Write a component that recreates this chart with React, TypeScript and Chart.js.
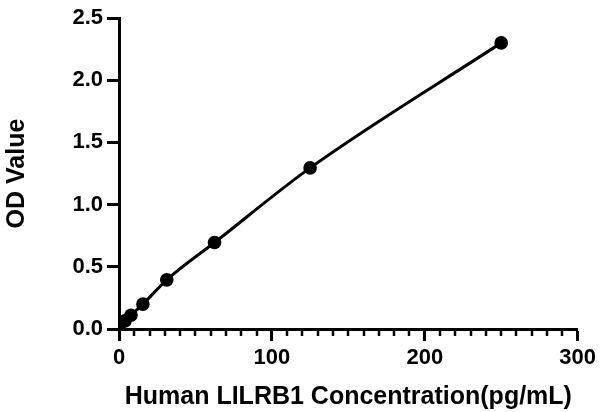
import React, { useEffect, useRef } from "react";
import { Chart, registerables } from "chart.js";

Chart.register(...registerables);

const concentrations = [0, 3.906, 7.813, 15.625, 31.25, 62.5, 125, 250];
const odValues = [0.025, 0.065, 0.11, 0.2, 0.395, 0.695, 1.295, 2.3];
const xTicks = [0, 100, 200, 300];
const yTicks = [0, 0.5, 1.0, 1.5, 2.0, 2.5];
const xMinorStep = 10;

const FONT = "'Liberation Sans', Arial, sans-serif";

const minorTickPlugin = {
  id: "minorTicks",
  afterDraw(chart: any) {
    const x = chart.scales.x;
    const ctx = chart.ctx;
    const bottom = chart.chartArea.bottom;
    ctx.save();
    ctx.strokeStyle = "#000";
    ctx.lineWidth = 2.5;
    for (let v = x.min; v <= x.max; v += xMinorStep) {
      if (xTicks.includes(v)) continue;
      const px = Math.round(x.getPixelForValue(v));
      ctx.beginPath();
      ctx.moveTo(px, bottom);
      ctx.lineTo(px, bottom + 7);
      ctx.stroke();
    }
    ctx.restore();
  },
};

export default function App() {
  const ref = useRef<HTMLCanvasElement | null>(null);
  useEffect(() => {
    if (!ref.current) return;
    const chart = new Chart(ref.current, {
      type: "line",
      data: {
        datasets: [
          {
            data: concentrations.map((c, i) => ({ x: c, y: odValues[i] })),
            borderColor: "#000",
            backgroundColor: "#000",
            borderWidth: 3,
            pointRadius: 6.8,
            pointHoverRadius: 6.8,
            pointBackgroundColor: "#000",
            pointBorderWidth: 0,
            cubicInterpolationMode: "monotone",
            fill: false,
          },
        ],
      },
      options: {
        animation: false,
        responsive: false,
        maintainAspectRatio: false,
        layout: { padding: { left: 0, right: 20, top: 18, bottom: 0 } },
        plugins: {
          legend: { display: false },
          tooltip: { enabled: false },
        },
        scales: {
          x: {
            type: "linear",
            min: 0,
            max: 300,
            afterFit: (s: any) => {
              s.height = 83;
            },
            afterBuildTicks: (s: any) => {
              s.ticks = xTicks.map((v) => ({ value: v }));
            },
            grid: {
              display: true,
              drawOnChartArea: false,
              drawTicks: true,
              tickLength: 12,
              tickWidth: 3,
              tickColor: "#000",
            },
            border: { display: true, color: "#000", width: 3 },
            ticks: {
              color: "#000",
              font: { family: FONT, size: 22, weight: "bold" },
              padding: 4,
              maxRotation: 0,
            },
            title: {
              display: true,
              text: "Human LILRB1 Concentration(pg/mL)",
              color: "#000",
              font: { family: FONT, size: 25, weight: "bold" },
              padding: { top: 0, bottom: 0 },
            },
          },
          y: {
            type: "linear",
            min: 0,
            max: 2.5,
            afterFit: (s: any) => {
              s.width = 119;
            },
            afterBuildTicks: (s: any) => {
              s.ticks = yTicks.map((v) => ({ value: v }));
            },
            grid: {
              display: true,
              drawOnChartArea: false,
              drawTicks: true,
              tickLength: 12,
              tickWidth: 3,
              tickColor: "#000",
            },
            border: { display: true, color: "#000", width: 3 },
            ticks: {
              color: "#000",
              font: { family: FONT, size: 22, weight: "bold" },
              padding: 4,
              callback: (v: any) => Number(v).toFixed(1),
            },
            title: {
              display: true,
              text: "OD Value",
              color: "#000",
              font: { family: FONT, size: 25, weight: "bold" },
              padding: { top: 2, bottom: 0 },
            },
          },
        },
      },
      plugins: [minorTickPlugin],
    } as any);
    return () => chart.destroy();
  }, []);
  return (
    <div style={{ position: "fixed", left: 0, top: 0, width: 600, height: 412, background: "#fff" }}>
      <canvas ref={ref} width={600} height={412} style={{ width: 600, height: 412 }} />
    </div>
  );
}
